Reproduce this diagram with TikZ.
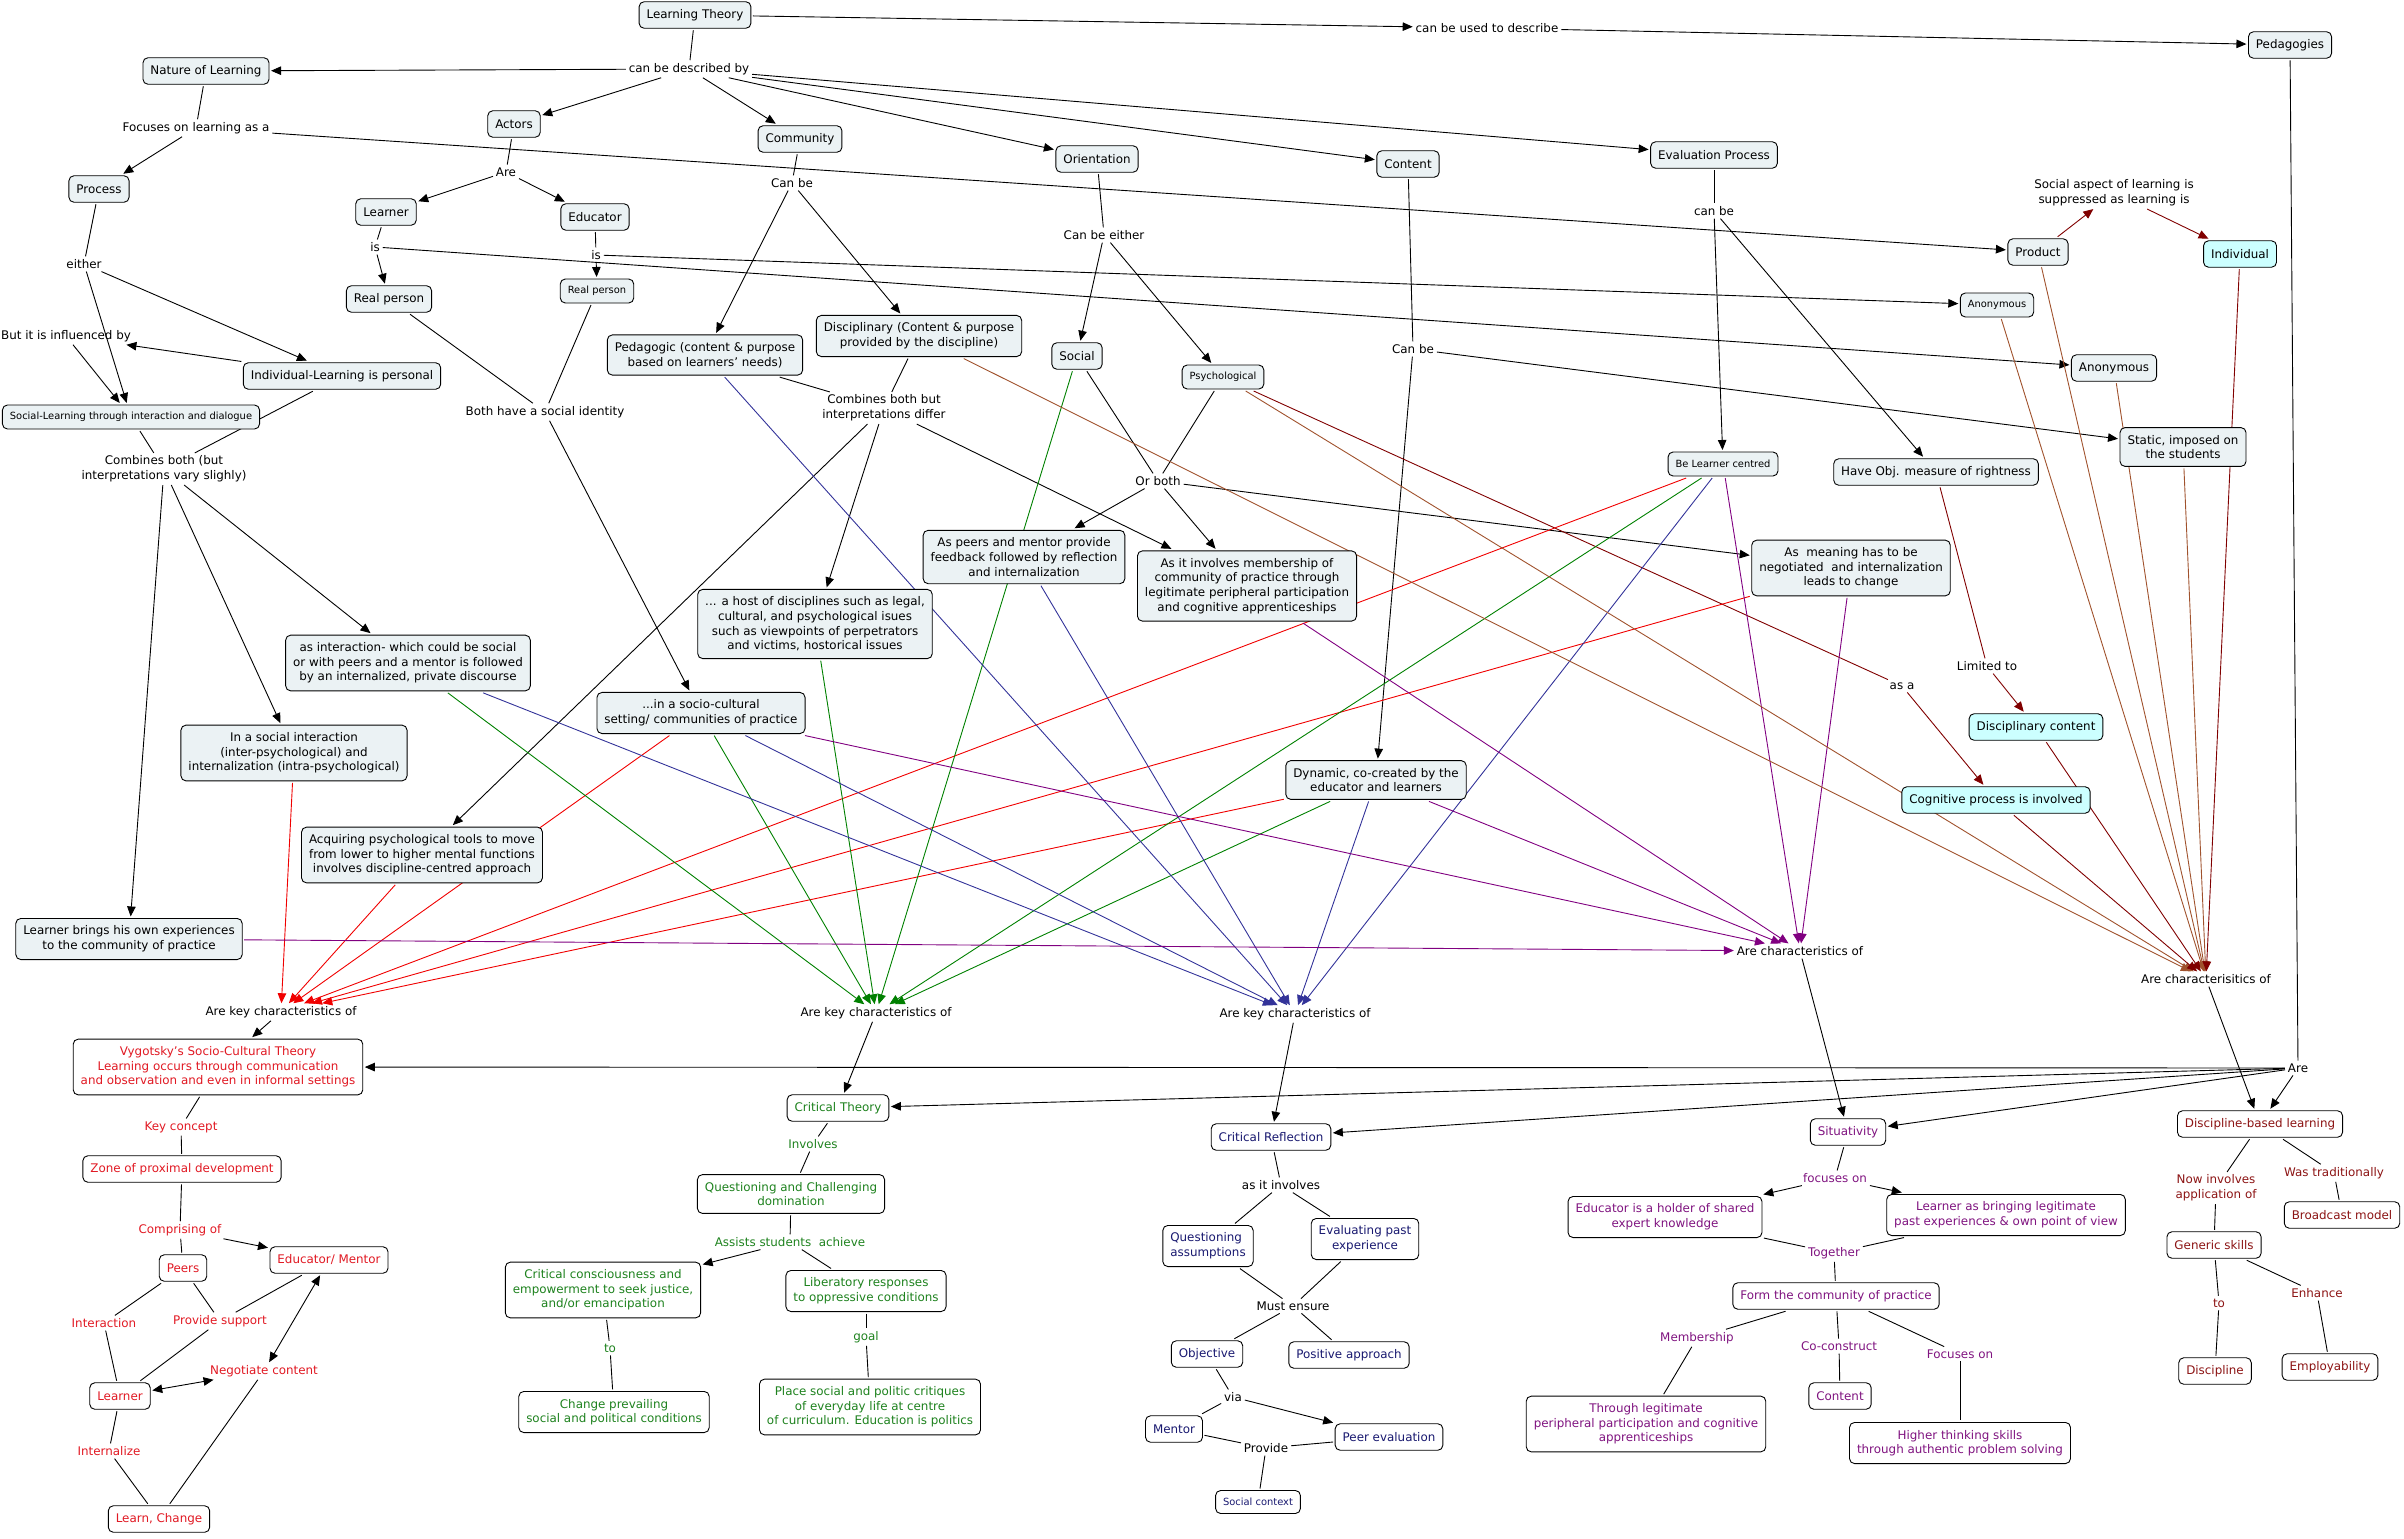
\documentclass[tikz,border=0pt]{standalone}
\usepackage{fontspec}
\setmainfont{DejaVu Sans}
\usetikzlibrary{arrows.meta}
\pgfdeclarelayer{bg}
\pgfsetlayers{bg,main}
\definecolor{boxfill}{RGB}{235,242,244}
\definecolor{cyanfill}{RGB}{204,255,255}
\definecolor{vred}{RGB}{225,25,35}
\definecolor{cgreen}{RGB}{30,130,30}
\definecolor{cnavy}{RGB}{25,25,112}
\definecolor{cpurp}{RGB}{128,20,128}
\definecolor{cdred}{RGB}{140,20,20}
\definecolor{lred}{RGB}{240,0,0}
\definecolor{lgreen}{RGB}{0,128,0}
\definecolor{lblue}{RGB}{51,51,153}
\definecolor{lpurp}{RGB}{128,0,128}
\definecolor{lsienna}{RGB}{160,82,45}
\definecolor{ldred}{RGB}{128,0,0}
\newcommand\fmain{\fontsize{11.9bp}{14.6bp}\selectfont}
\newcommand\fsmall{\fontsize{9.9bp}{12bp}\selectfont}
\tikzset{
  box/.style={draw=black, line width=0.9bp, rounded corners=5bp, fill=boxfill, inner xsep=7.5bp, inner ysep=7.5bp, minimum height=26.5bp, outer sep=2bp, align=center, font=\fmain},
  sbox/.style={box, font=\fsmall, inner ysep=6bp, minimum height=24bp},
  cbox/.style={box, fill=cyanfill},
  wbox/.style={box, fill=white},
  lbl/.style={inner sep=2bp, outer sep=1bp, align=center, font=\fmain},
  conn/.style={line width=0.9bp},
  arr/.style={conn, -{Triangle[length=10bp,width=8.5bp]}},
  darr/.style={conn, {Triangle[length=10bp,width=8.5bp]}-{Triangle[length=10bp,width=8.5bp]}},
}
\begin{document}
\begin{tikzpicture}[x=1bp,y=-1bp]
\useasboundingbox (0,0) rectangle (2404,1539);
% ---------------- top nodes
\node[box] (lt) at (695,15) {Learning Theory};
\node[lbl] (cbd) at (689,69) {can be described by};
\node[lbl] (cbutd) at (1487,28) {can be used to describe};
\node[box] (ped) at (2290,45) {Pedagogies};
\node[box] (nat) at (206,71) {Nature of Learning};
\node[lbl] (focus) at (196,128) {Focuses on learning as a};
\node[box] (actors) at (514,124) {Actors};
\node[box] (comm) at (800,139) {Community};
\node[box] (orient) at (1097,159) {Orientation};
\node[box] (content) at (1408,164) {Content};
\node[box] (evalp) at (1714,155) {Evaluation Process};
\node[box] (process) at (99,189) {Process};
\node[lbl] (are1) at (506,172) {Are};
\node[box] (learner) at (386,212) {Learner};
\node[box] (educ) at (595,217) {Educator};
\node[lbl] (canbe1) at (792,183) {Can be};
\node[lbl] (canbeeither) at (1104,235) {Can be either};
\node[lbl] (canbe3) at (1714,211) {can be};
\node[lbl] (socasp) at (2114,193) {Social aspect of learning is\\suppressed as learning is};
\node[box] (product) at (2038,252) {Product};
\node[cbox] (indiv) at (2240,254) {Individual};
\node[lbl] (is1) at (375,247) {is};
\node[lbl] (is2) at (596,255) {is};
\node[lbl] (either) at (84,264) {either};
\node[box] (rp1) at (389,299) {Real person};
\node[sbox] (rp2) at (597,291) {Real person};
\node[sbox] (anon1) at (1997,305) {Anonymous};
\node[box] (anon2) at (2114,368) {Anonymous};
\node[box] (disc) at (919,336) {Disciplinary (Content \& purpose\\provided by the discipline)};
\node[box] (pedag) at (705,355) {Pedagogic (content \& purpose\\based on learners' needs)};
\node[box] (social) at (1077,356) {Social};
\node[sbox] (psych) at (1223,377) {Psychological};
\node[lbl] (canbe2) at (1413,349) {Can be};
\node[lbl] (butinf) at (66,336) {But it is influenced by};
\node[box] (indl) at (342,376) {Individual-Learning is personal};
\node[sbox] (socl) at (131,417) {Social-Learning through interaction and dialogue};
\node[lbl] (bothsoc) at (545,412) {Both have a social identity};
\node[lbl] (comb2) at (884,408) {Combines both but\\interpretations differ};
\node[box] (static) at (2183,447) {Static, imposed on\\the students};
\node[sbox] (blc) at (1723,464) {Be Learner centred};
\node[box] (hom) at (1936,472) {Have Obj. measure of rightness};
\node[lbl] (comb1) at (164,469) {Combines both (but\\interpretations vary slighly)};
\node[lbl] (orboth) at (1158,481) {Or both};
% ---------------- middle nodes
\node[box] (peers1) at (1024,557) {As peers and mentor provide\\feedback followed by reflection\\and internalization};
\node[box] (member) at (1247,586) {As it involves membership of\\community of practice through\\legitimate peripheral participation\\and cognitive apprenticeships};
\node[box] (meaning) at (1851,568) {As\ \ meaning has to be\\negotiated\ \ and internalization\\leads to change};
\node[box] (host) at (815,624) {... a host of disciplines such as legal,\\cultural, and psychological isues\\such as viewpoints of perpetrators\\and victims, hostorical issues};
\node[box] (asint) at (408,663) {as interaction- which could be social\\or with peers and a mentor is followed\\by an internalized, private discourse};
\node[lbl] (limited) at (1987,666) {Limited to};
\node[lbl] (asa) at (1902,686) {as a};
\node[box] (socio) at (701,713) {...in a socio-cultural\\setting/ communities of practice};
\node[cbox] (disccont) at (2036,727) {Disciplinary content};
\node[box] (social2) at (294,753) {In a social interaction\\(inter-psychological) and\\internalization (intra-psychological)};
\node[box] (dynamic) at (1376,780) {Dynamic, co-created by the\\educator and learners};
\node[cbox] (cogn) at (1996,800) {Cognitive process is involved};
\node[box] (acq) at (422,855) {Acquiring psychological tools to move\\from lower to higher mental functions\\involves discipline-centred approach};
\node[box] (lbrings) at (129,939) {Learner brings his own experiences\\to the community of practice};
\node[lbl] (kc1) at (281,1012) {Are key characteristics of};
\node[lbl] (kc2) at (876,1013) {Are key characteristics of};
\node[lbl] (kc3) at (1295,1014) {Are key characteristics of};
\node[lbl] (kc4) at (1800,951) {Are characteristics of};
\node[lbl] (kc5) at (2206,979) {Are characterisitics of};
% ---------------- bottom nodes
\node[lbl] (are2) at (2298,1068) {Are};
\node[wbox, text=vred] (vyg) at (218,1067) {Vygotsky's Socio-Cultural Theory\\Learning occurs through communication\\and observation and even in informal settings};
\node[wbox, text=cgreen] (ct) at (838,1108) {Critical Theory};
\node[wbox, text=cnavy] (cr) at (1271,1137) {Critical Reflection};
\node[wbox, text=cpurp] (sit) at (1848,1132) {Situativity};
\node[wbox, text=cdred] (dbl) at (2260,1124) {Discipline-based learning};
\node[lbl, text=vred] (keyc) at (181,1127) {Key concept};
\node[lbl, text=cgreen] (involves) at (813,1144) {Involves};
\node[wbox, text=vred] (zpd) at (182,1169) {Zone of proximal development};
\node[wbox, text=cgreen] (qcd) at (791,1194) {Questioning and Challenging\\domination};
\node[lbl] (asinv) at (1281,1185) {as it involves};
\node[lbl, text=cpurp] (focon) at (1835,1178) {focuses on};
\node[lbl, text=cdred] (nowinv) at (2216,1188) {Now involves\\application of};
\node[lbl, text=cdred] (wastrad) at (2334,1173) {Was traditionally};
\node[wbox, text=cdred] (bcast) at (2342,1215) {Broadcast model};
\node[wbox, text=cpurp] (holder) at (1665,1217) {Educator is a holder of shared\\expert knowledge};
\node[wbox, text=cpurp] (lbring2) at (2006,1215) {Learner as bringing legitimate\\past experiences \& own point of view};
\node[lbl, text=vred] (comprising) at (180,1230) {Comprising of};
\node[lbl, text=cgreen] (assists) at (790,1242) {Assists students\ \ achieve};
\node[wbox, text=cnavy, align=left] (qa) at (1208,1246) {Questioning\\assumptions};
\node[wbox, text=cnavy] (epe) at (1365,1239) {Evaluating past\\experience};
\node[wbox, text=cdred] (gskills) at (2214,1245) {Generic skills};
\node[lbl, text=cpurp] (together) at (1834,1253) {Together};
\node[wbox, text=vred] (em) at (329,1260) {Educator/ Mentor};
\node[wbox, text=vred] (peers) at (183,1268) {Peers};
\node[wbox, text=cgreen] (ccons) at (603,1290) {Critical consciousness and\\empowerment to seek justice,\\and/or emancipation};
\node[wbox, text=cgreen] (libr) at (866,1291) {Liberatory responses\\to oppressive conditions};
\node[lbl, text=cdred] (enhance) at (2317,1293) {Enhance};
\node[wbox, text=cpurp] (form) at (1836,1296) {Form the community of practice};
\node[lbl, text=cdred] (to2) at (2219,1303) {to};
\node[lbl] (mustens) at (1293,1306) {Must ensure};
\node[lbl, text=vred] (interaction) at (104,1323) {Interaction};
\node[lbl, text=vred] (provsup) at (220,1321) {Provide support};
\node[lbl, text=cgreen] (goal) at (866,1337) {goal};
\node[lbl, text=cpurp] (membership) at (1697,1338) {Membership};
\node[lbl, text=cpurp] (coconst) at (1839,1346) {Co-construct};
\node[lbl, text=cgreen] (to1) at (610,1348) {to};
\node[lbl, text=cpurp] (focon2) at (1960,1354) {Focuses on};
\node[wbox, text=cnavy] (obj) at (1207,1354) {Objective};
\node[wbox, text=cnavy] (posapp) at (1349,1355) {Positive approach};
\node[wbox, text=cdred] (empl) at (2330,1367) {Employability};
\node[wbox, text=cdred] (discip) at (2215,1371) {Discipline};
\node[lbl, text=vred] (negot) at (264,1371) {Negotiate content};
\node[wbox, text=vred] (learner2) at (120,1396) {Learner};
\node[wbox, text=cpurp] (content2) at (1840,1396) {Content};
\node[lbl] (via) at (1233,1397) {via};
\node[wbox, text=cgreen] (place) at (870,1407) {Place social and politic critiques\\of everyday life at centre\\of curriculum. Education is politics};
\node[wbox, text=cgreen] (cprev) at (614,1412) {Change prevailing\\social and political conditions};
\node[wbox, text=cpurp] (throughleg) at (1646,1424) {Through legitimate\\peripheral participation and cognitive\\apprenticeships};
\node[wbox, text=cnavy] (mentor) at (1174,1429) {Mentor};
\node[wbox, text=cnavy] (peerev) at (1389,1437) {Peer evaluation};
\node[wbox, text=cpurp] (higher) at (1960,1443) {Higher thinking skills\\through authentic problem solving};
\node[lbl] (provide) at (1266,1448) {Provide};
\node[lbl, text=vred] (internalize) at (109,1451) {Internalize};
\node[wbox, text=cnavy, font=\fsmall, minimum height=23bp, inner ysep=6bp] (socctx) at (1258,1502) {Social context};
\node[wbox, text=vred] (learnchange) at (159,1519) {Learn, Change};

\begin{pgfonlayer}{bg}
% ---- black connectors, top
\draw[conn] (lt) -- (cbd);
\foreach \t in {nat,actors,comm,orient,content,evalp} \draw[arr] (cbd) -- (\t);
\draw[arr] (lt) -- (cbutd);
\draw[arr] (cbutd) -- (ped);
\draw[conn] (nat) -- (focus);
\draw[arr] (focus) -- (process);
\draw[arr] (focus) -- (product);
\draw[conn] (actors) -- (are1);
\draw[arr] (are1) -- (learner);
\draw[arr] (are1) -- (educ);
\draw[conn] (learner) -- (is1);
\draw[arr] (is1) -- (rp1);
\draw[arr] (is1) -- (anon2);
\draw[conn] (educ) -- (is2);
\draw[arr] (is2) -- (rp2);
\draw[arr] (is2) -- (anon1);
\draw[conn] (rp1) -- (bothsoc);
\draw[conn] (rp2) -- (bothsoc);
\draw[arr] (bothsoc) -- (socio);
\draw[conn] (process) -- (either);
\draw[arr] (either) -- (socl);
\draw[arr] (either) -- (indl);
\draw[arr] (indl) -- (butinf);
\draw[arr] (butinf) -- (socl);
\draw[conn] (socl) -- (comb1);
\draw[conn] (indl) -- (comb1);
\draw[arr] (comb1) -- (lbrings);
\draw[arr] (comb1) -- (social2);
\draw[arr] (comb1) -- (asint);
\draw[conn] (comm) -- (canbe1);
\draw[arr] (canbe1) -- (pedag);
\draw[arr] (canbe1) -- (disc);
\draw[conn] (pedag) -- (comb2);
\draw[conn] (disc) -- (comb2);
\draw[arr] (comb2) -- (acq);
\draw[arr] (comb2) -- (host);
\draw[arr] (comb2) -- (member);
\draw[conn] (orient) -- (canbeeither);
\draw[arr] (canbeeither) -- (social);
\draw[arr] (canbeeither) -- (psych);
\draw[conn] (social) -- (orboth);
\draw[conn] (psych) -- (orboth);
\draw[arr] (orboth) -- (peers1);
\draw[arr] (orboth) -- (member);
\draw[arr] (orboth) -- (meaning);
\draw[conn] (content) -- (canbe2);
\draw[arr] (canbe2) -- (dynamic);
\draw[arr] (canbe2) -- (static);
\draw[conn] (evalp) -- (canbe3);
\draw[arr] (canbe3) -- (blc);
\draw[arr] (canbe3) -- (hom);
% ---- dark red links
\draw[arr, ldred] (product) -- (socasp);
\draw[arr, ldred] (socasp) -- (indiv);
\draw[conn, ldred] (hom) -- (limited);
\draw[arr, ldred] (limited) -- (disccont);
\draw[conn, ldred] (psych) -- (asa);
\draw[arr, ldred] (asa) -- (cogn);
% ---- coloured characteristic links
\foreach \s in {social2,socio,acq,blc,meaning,dynamic} \draw[arr, lred] (\s) -- (kc1);
\foreach \s in {asint,socio,host,social,blc,dynamic} \draw[arr, lgreen] (\s) -- (kc2);
\foreach \s in {pedag,asint,socio,peers1,dynamic,blc} \draw[arr, lblue] (\s) -- (kc3);
\foreach \s in {lbrings,socio,member,dynamic,blc,meaning} \draw[arr, lpurp] (\s) -- (kc4);
\foreach \s in {disc,psych,anon1,product,anon2,static} \draw[arr, lsienna] (\s) -- (kc5);
\foreach \s in {indiv,disccont,cogn} \draw[arr, ldred] (\s) -- (kc5);
% ---- to theories
\draw[arr] (kc1) -- (vyg);
\draw[arr] (kc2) -- (ct);
\draw[arr] (kc3) -- (cr);
\draw[arr] (kc4) -- (sit);
\draw[arr] (kc5) -- (dbl);
\draw[conn] (ped) -- (are2);
\foreach \t in {vyg,ct,cr,sit,dbl} \draw[arr] (are2) -- (\t);
% ---- Vygotsky
\draw[conn] (vyg) -- (keyc);
\draw[conn] (keyc) -- (zpd);
\draw[conn] (zpd) -- (comprising);
\draw[conn] (comprising) -- (peers);
\draw[arr] (comprising) -- (em);
\draw[conn] (peers) -- (interaction);
\draw[conn] (interaction) -- (learner2);
\draw[conn] (peers) -- (provsup);
\draw[conn] (em) -- (provsup);
\draw[conn] (provsup) -- (learner2);
\draw[darr] (em) -- (negot);
\draw[darr] (learner2) -- (negot);
\draw[conn] (learner2) -- (internalize);
\draw[conn] (internalize) -- (learnchange);
\draw[conn] (negot) -- (learnchange);
% ---- Critical theory
\draw[conn] (ct) -- (involves);
\draw[conn] (involves) -- (qcd);
\draw[conn] (qcd) -- (assists);
\draw[arr] (assists) -- (ccons);
\draw[conn] (assists) -- (libr);
\draw[conn] (ccons) -- (to1);
\draw[conn] (to1) -- (cprev);
\draw[conn] (libr) -- (goal);
\draw[conn] (goal) -- (place);
% ---- Critical reflection
\draw[conn] (cr) -- (asinv);
\draw[conn] (asinv) -- (qa);
\draw[conn] (asinv) -- (epe);
\draw[conn] (qa) -- (mustens);
\draw[conn] (epe) -- (mustens);
\draw[conn] (mustens) -- (obj);
\draw[conn] (mustens) -- (posapp);
\draw[conn] (obj) -- (via);
\draw[conn] (via) -- (mentor);
\draw[arr] (via) -- (peerev);
\draw[conn] (mentor) -- (provide);
\draw[conn] (peerev) -- (provide);
\draw[conn] (provide) -- (socctx);
% ---- Situativity
\draw[conn] (sit) -- (focon);
\draw[arr] (focon) -- (holder);
\draw[arr] (focon) -- (lbring2);
\draw[conn] (holder) -- (together);
\draw[conn] (lbring2) -- (together);
\draw[conn] (together) -- (form);
\draw[conn] (form) -- (membership);
\draw[conn] (membership) -- (throughleg);
\draw[conn] (form) -- (coconst);
\draw[conn] (coconst) -- (content2);
\draw[conn] (form) -- (focon2);
\draw[conn] (focon2) -- (higher);
% ---- Discipline-based learning
\draw[conn] (dbl) -- (nowinv);
\draw[conn] (nowinv) -- (gskills);
\draw[conn] (dbl) -- (wastrad);
\draw[conn] (wastrad) -- (bcast);
\draw[conn] (gskills) -- (to2);
\draw[conn] (to2) -- (discip);
\draw[conn] (gskills) -- (enhance);
\draw[conn] (enhance) -- (empl);
\end{pgfonlayer}
\end{tikzpicture}
\end{document}
